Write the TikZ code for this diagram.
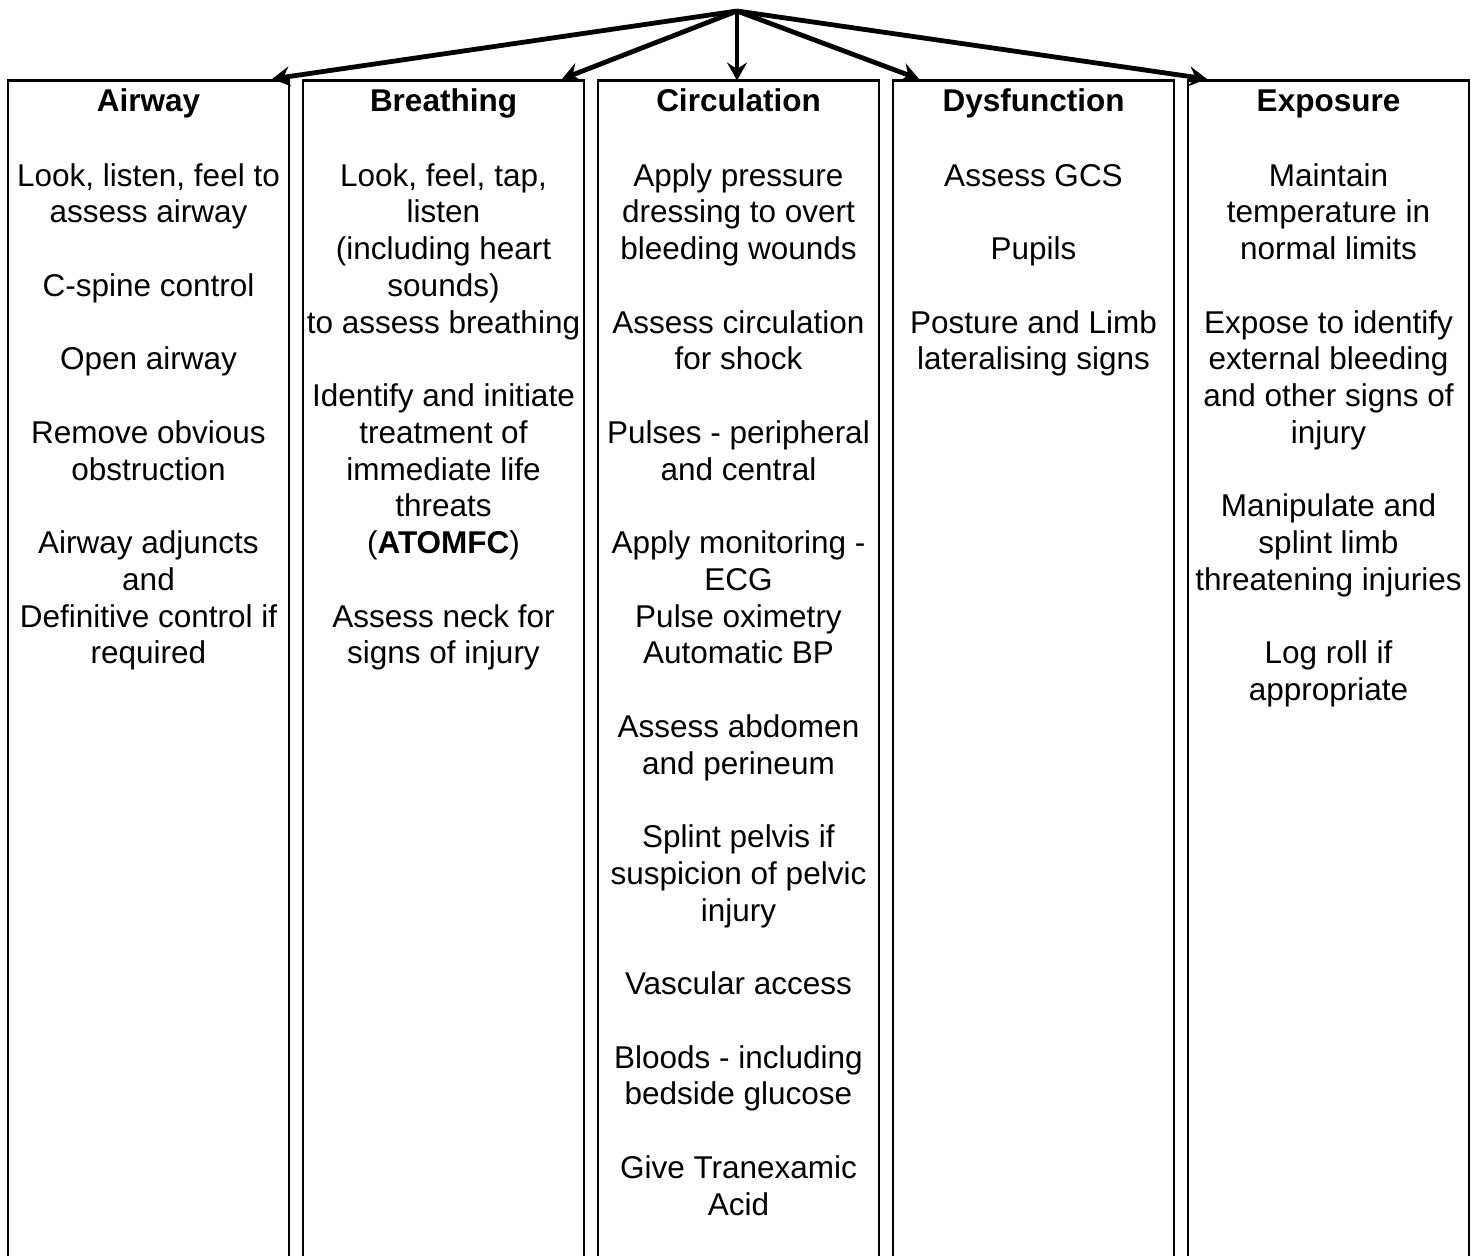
\documentclass[tikz,border=0pt]{standalone}
\usepackage{fontspec}
\setmainfont{Liberation Sans}
\usetikzlibrary{arrows.meta,calc}

\begin{document}
\begin{tikzpicture}[x=1pt,y=-1pt,
  column/.style={draw, line width=2.6pt, rectangle, outer sep=0pt, inner sep=0pt,
    minimum width=281pt, minimum height=1320pt, anchor=north west},
  heading/.style={font=\fontsize{31.5}{36.75}\selectfont\bfseries, anchor=base, inner sep=0pt},
  % body nodes are placed by the baseline of their last line
  body/.style={font=\fontsize{31.5}{36.75}\selectfont, align=center, anchor=base, inner sep=0pt},
  branch/.style={line width=4.8pt, -{Stealth[length=18pt,width=20pt,inset=6.5pt]}}]

\useasboundingbox (0,0) rectangle (1479,1255);
\clip (0,0) rectangle (1479,1255);

% five columns, open at the bottom
\node[column] (airway) at (8,80.5) {};
\node[column] (breathing) at (303,80.5) {};
\node[column] (circulation) at (598,80.5) {};
\node[column] (dysfunction) at (893,80.5) {};
\node[column] (exposure) at (1188,80.5) {};

% headings
\node[heading] (hA) at ($(airway.north)+(0,31)$) {Airway};
\node[heading] (hB) at ($(breathing.north)+(0,31)$) {Breathing};
\node[heading] (hC) at ($(circulation.north)+(0,31)$) {Circulation};
\node[heading] (hD) at ($(dysfunction.north)+(0,31)$) {Dysfunction};
\node[heading] (hE) at ($(exposure.north)+(0,31)$) {Exposure};

% column contents (line pitch 36.75pt, first baseline 105.5pt below the column top)
\node[body] (tA) at ($(airway.north)+(0,105.5+13*36.75)$) {Look, listen, feel to\\assess airway\\[36.75pt]
  C-spine control\\[36.75pt]
  Open airway\\[36.75pt]
  Remove obvious\\obstruction\\[36.75pt]
  Airway adjuncts\\and\\Definitive control if\\required};

\node[body] (tB) at ($(breathing.north)+(0,105.5+13*36.75)$) {Look, feel, tap,\\listen\\(including heart\\sounds)\\to assess breathing\\[36.75pt]
  Identify and initiate\\treatment of\\immediate life\\threats\\(\textbf{ATOMFC})\\[36.75pt]
  Assess neck for\\signs of injury};

\node[body] (tC) at ($(circulation.north)+(0,105.5+28*36.75)$) {Apply pressure\\dressing to overt\\bleeding wounds\\[36.75pt]
  Assess circulation\\for shock\\[36.75pt]
  Pulses - peripheral\\and central\\[36.75pt]
  Apply monitoring -\\ECG\\Pulse oximetry\\Automatic BP\\[36.75pt]
  Assess abdomen\\and perineum\\[36.75pt]
  Splint pelvis if\\suspicion of pelvic\\injury\\[36.75pt]
  Vascular access\\[36.75pt]
  Bloods - including\\bedside glucose\\[36.75pt]
  Give Tranexamic\\Acid};

\node[body] (tD) at ($(dysfunction.north)+(0,105.5+5*36.75)$) {Assess GCS\\[36.75pt]
  Pupils\\[36.75pt]
  Posture and Limb\\lateralising signs};

\node[body] (tE) at ($(exposure.north)+(0,105.5+14*36.75)$) {Maintain\\temperature in\\normal limits\\[36.75pt]
  Expose to identify\\external bleeding\\and other signs of\\injury\\[36.75pt]
  Manipulate and\\splint limb\\threatening injuries\\[36.75pt]
  Log roll if\\appropriate};

% fan of arrows from the common origin
\coordinate (origin) at (737,11);
\draw[branch] (origin) -- ($(airway.north east)+(-17,-1.5)$);
\draw[branch] (origin) -- ($(breathing.north east)+(-22,-1.5)$);
\draw[branch] (origin) -- (circulation.north -| origin);
\draw[branch] (origin) -- ($(dysfunction.north west)+(26,-1.5)$);
\draw[branch] (origin) -- ($(exposure.north west)+(19,-1.5)$);
\end{tikzpicture}
\end{document}
